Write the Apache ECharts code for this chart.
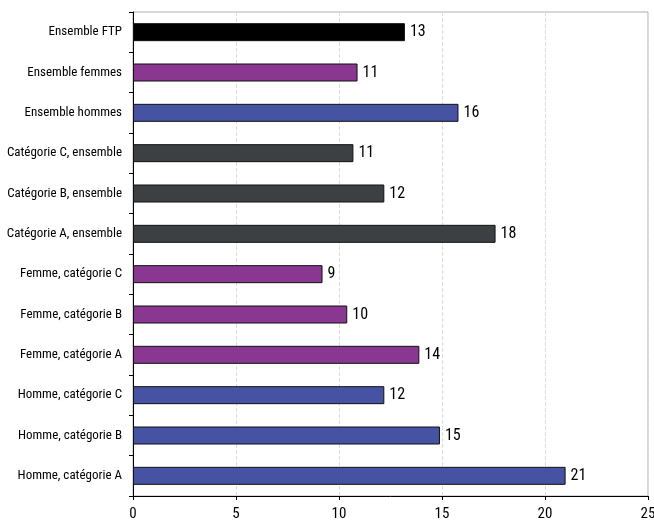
<!DOCTYPE html>
<html><head><meta charset="utf-8">
<script src="https://cdn.jsdelivr.net/npm/echarts@6/dist/echarts.min.js"></script>
<style>html,body{margin:0;padding:0;background:#fff}#c{width:654px;height:522px}</style>
</head><body><div id="c"></div>
<script>
var categories = ["Homme, catégorie A","Homme, catégorie B","Homme, catégorie C","Femme, catégorie A","Femme, catégorie B","Femme, catégorie C","Catégorie A, ensemble","Catégorie B, ensemble","Catégorie C, ensemble","Ensemble hommes","Ensemble femmes","Ensemble FTP"];
var values = [21.0, 14.9, 12.2, 13.9, 10.4, 9.2, 17.6, 12.2, 10.7, 15.8, 10.9, 13.2];
var labels = ["21","15","12","14","10","9","18","12","11","16","11","13"];
var groups = ["h","h","h","f","f","f","c","c","c","h","f","t"];
var groupColors = {h:"#4653a3", f:"#8a3791", c:"#3d4043", t:"#000000"};
var xTicks = [0,5,10,15,20,25];

var font = "'Roboto Condensed',sans-serif";
var chart = echarts.init(document.getElementById('c'));
chart.setOption({
  animation:false,
  grid:{left:133,right:6,top:12,bottom:26,show:true,borderColor:'#b0b0b0',borderWidth:1,containLabel:false,outerBoundsMode:'none'},
  xAxis:{type:'value',min:xTicks[0],max:xTicks[xTicks.length-1],interval:5,
    axisLine:{show:true,lineStyle:{color:'#000',width:1}},
    axisTick:{show:true,length:4,lineStyle:{color:'#000'}},
    axisLabel:{color:'#000',fontFamily:font,fontSize:15,margin:11},
    splitLine:{show:true,lineStyle:{color:'#dcdcdc',type:'dashed'}}},
  yAxis:{type:'category',data:categories,
    axisLine:{show:true,lineStyle:{color:'#000',width:1}},
    axisTick:{show:true,length:4,lineStyle:{color:'#000'}},
    axisLabel:{color:'#000',fontFamily:font,fontSize:13,margin:11},
    splitLine:{show:false}},
  series:[{type:'bar',barWidth:18,
    data:values.map(function(v,i){return {value:v,itemStyle:{color:groupColors[groups[i]]}};}),
    itemStyle:{borderColor:'#111',borderWidth:1},
    label:{show:true,position:'right',distance:5,color:'#000',fontFamily:font,fontSize:16,
      formatter:function(p){return labels[p.dataIndex];}}
  }]
});
</script></body></html>
